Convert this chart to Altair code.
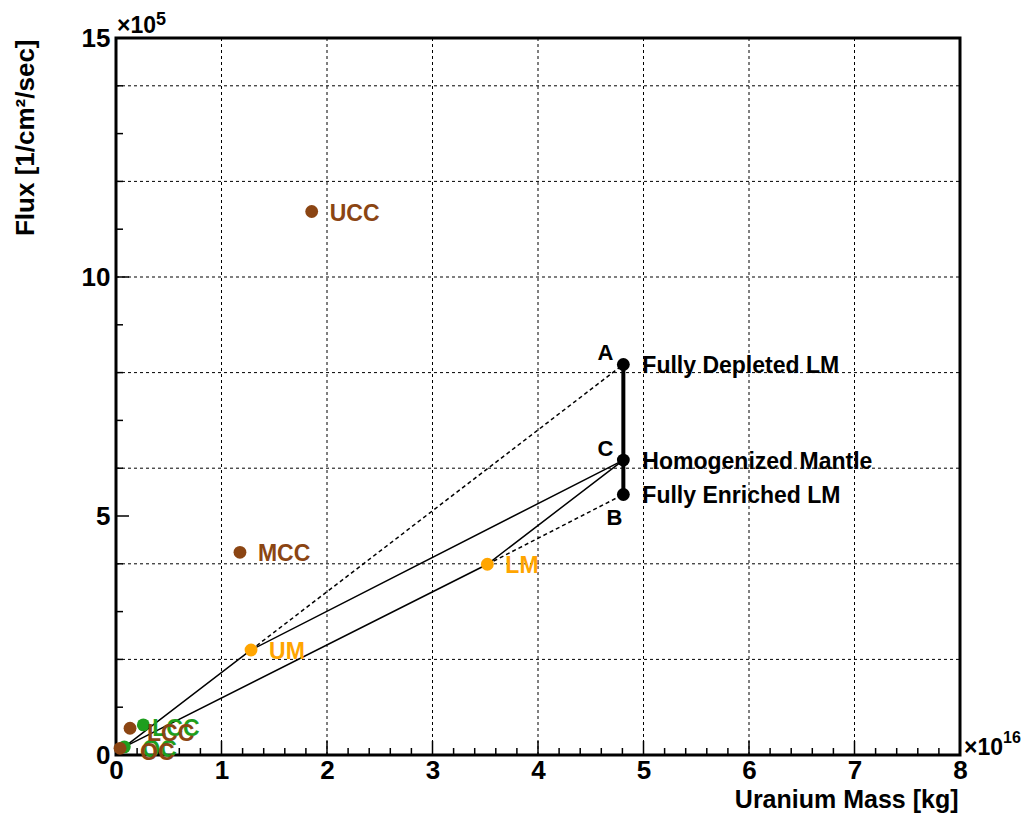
import altair as alt
import pandas as pd

# ---------------- data ----------------
crust_names = ["UCC", "MCC", "LCC", "OC"]
crust_x = [1.855, 1.175, 0.133, 0.038]
crust_y = [11.37, 4.24, 0.56, 0.14]

green_names = ["LCC", "OC"]
green_x = [0.259, 0.079]
green_y = [0.63, 0.17]

mantle_names = ["UM", "LM"]
mantle_x = [1.28, 3.52]
mantle_y = [2.197, 3.99]

earth_letters = ["A", "C", "B"]
earth_desc = ["Fully Depleted LM", "Homogenized Mantle", "Fully Enriched LM"]
earth_x = [4.809, 4.809, 4.809]
earth_y = [8.17, 6.17, 5.45]

# parallelogram paths (start -> UM -> C, start -> LM -> C)
path_start = (0.08, 0.17)
upper_path_x = [path_start[0], mantle_x[0], earth_x[1]]
upper_path_y = [path_start[1], mantle_y[0], earth_y[1]]
lower_path_x = [path_start[0], mantle_x[1], earth_x[1]]
lower_path_y = [path_start[1], mantle_y[1], earth_y[1]]
# dotted: UM -> A, LM -> B
dot1_x = [mantle_x[0], earth_x[0]]
dot1_y = [mantle_y[0], earth_y[0]]
dot2_x = [mantle_x[1], earth_x[2]]
dot2_y = [mantle_y[1], earth_y[2]]

x_labels = [0, 1, 2, 3, 4, 5, 6, 7, 8]
y_labels = [0, 5, 10, 15]
x_grid = [1, 2, 3, 4, 5, 6, 7]
y_grid = [2, 4, 6, 8, 10, 12, 14]
x_major_ticks = [0, 1, 2, 3, 4, 5, 6, 7, 8]
x_minor_ticks = [i / 5 for i in range(1, 40) if i % 5 != 0]
y_major_ticks = [0, 5, 10, 15]
y_minor_ticks = [v for v in range(1, 15) if v % 5 != 0]

BROWN = "#8B4513"
GREEN = "#1E9E1E"
ORANGE = "#FFA500"
FONT = "Liberation Sans"

W, H = 844, 717

xs = alt.Scale(domain=[0, 8], nice=False, zero=False)
ys = alt.Scale(domain=[0, 15], nice=False, zero=False)

x_axis = alt.Axis(values=x_labels, ticks=False, domain=False, grid=False,
                  labelFont=FONT, labelFontWeight="bold", labelFontSize=26,
                  labelColor="black", labelPadding=2, labelFlush=False,
                  labelOverlap=False, format="d",
                  title="Uranium Mass [kg]", titleFont=FONT, titleFontWeight="bold",
                  titleFontSize=25, titleColor="black", titleX=W - 2, titleY=52,
                  titleAlign="right", titleBaseline="alphabetic", titleAnchor="end")
y_axis = alt.Axis(values=y_labels, ticks=False, domain=False, grid=False,
                  labelFont=FONT, labelFontWeight="bold", labelFontSize=26,
                  labelColor="black", labelPadding=6, labelFlush=False,
                  labelOverlap=False, format="d",
                  title="Flux [1/cm²/sec]", titleFont=FONT, titleFontWeight="bold",
                  titleFontSize=26, titleColor="black", titleAngle=270,
                  titleX=-83, titleY=1, titleAlign="right", titleBaseline="alphabetic",
                  titleAnchor="end")


def X(f="x"):
    return alt.X(f"{f}:Q", scale=xs, axis=x_axis)


def Y(f="y"):
    return alt.Y(f"{f}:Q", scale=ys, axis=y_axis)


def df(**kw):
    return pd.DataFrame(kw)


layers = []

# grid
layers.append(alt.Chart(df(x=x_grid)).mark_rule(color="black", strokeWidth=1, strokeDash=[3, 3]).encode(
    x=X(), y=alt.value(0), y2=alt.value(H)))
layers.append(alt.Chart(df(y=y_grid)).mark_rule(color="black", strokeWidth=1, strokeDash=[3, 3]).encode(
    y=Y(), x=alt.value(0), x2=alt.value(W)))

# ticks (inward)
layers.append(alt.Chart(df(x=x_major_ticks)).mark_rule(color="black", strokeWidth=1.5).encode(
    x=X(), y=alt.value(H), y2=alt.value(H - 14)))
layers.append(alt.Chart(df(x=x_minor_ticks)).mark_rule(color="black", strokeWidth=1.5).encode(
    x=X(), y=alt.value(H), y2=alt.value(H - 7)))
layers.append(alt.Chart(df(y=y_major_ticks)).mark_rule(color="black", strokeWidth=1.5).encode(
    y=Y(), x=alt.value(0), x2=alt.value(13)))
layers.append(alt.Chart(df(y=y_minor_ticks)).mark_rule(color="black", strokeWidth=1.5).encode(
    y=Y(), x=alt.value(0), x2=alt.value(7)))

# paths
for px, py, dash in [(upper_path_x, upper_path_y, None), (lower_path_x, lower_path_y, None),
                     (dot1_x, dot1_y, [4, 3]), (dot2_x, dot2_y, [4, 3])]:
    kw = dict(color="black", strokeWidth=1.5)
    if dash:
        kw["strokeDash"] = dash
    layers.append(alt.Chart(df(x=px, y=py, o=list(range(len(px))))).mark_line(**kw).encode(
        x=X(), y=Y(), order="o:Q"))

# thick A-B line
layers.append(alt.Chart(df(x=[earth_x[0], earth_x[2]], y=[earth_y[0], earth_y[2]], o=[0, 1]))
              .mark_line(color="black", strokeWidth=4).encode(x=X(), y=Y(), order="o:Q"))

crust_df = df(name=crust_names, x=crust_x, y=crust_y)
green_df = df(name=green_names, x=green_x, y=green_y)
mantle_df = df(name=mantle_names, x=mantle_x, y=mantle_y)
earth_df = df(letter=earth_letters, desc=earth_desc, x=earth_x, y=earth_y)

SZ = 165
layers.append(alt.Chart(green_df).mark_circle(size=SZ, opacity=1, color=GREEN).encode(x=X(), y=Y()))
layers.append(alt.Chart(crust_df).mark_circle(size=SZ, opacity=1, color=BROWN).encode(x=X(), y=Y()))
layers.append(alt.Chart(mantle_df).mark_circle(size=SZ, opacity=1, color=ORANGE).encode(x=X(), y=Y()))
layers.append(alt.Chart(earth_df).mark_circle(size=SZ, opacity=1, color="black").encode(x=X(), y=Y()))

TXT = dict(font=FONT, fontWeight="bold", fontSize=23, baseline="middle", align="left")

# green labels (under brown)
layers.append(alt.Chart(green_df).transform_filter(alt.datum.name == "LCC")
              .mark_text(color=GREEN, dx=9, dy=4, **TXT).encode(x=X(), y=Y(), text="name:N"))
layers.append(alt.Chart(green_df).transform_filter(alt.datum.name == "OC")
              .mark_text(color=GREEN, dx=18, dy=3, **TXT).encode(x=X(), y=Y(), text="name:N"))
# brown labels
layers.append(alt.Chart(crust_df).transform_filter("datum.name == 'UCC' || datum.name == 'MCC'")
              .mark_text(color=BROWN, dx=18, dy=2, **TXT).encode(x=X(), y=Y(), text="name:N"))
layers.append(alt.Chart(crust_df).transform_filter(alt.datum.name == "LCC")
              .mark_text(color=BROWN, dx=17, dy=6, **TXT).encode(x=X(), y=Y(), text="name:N"))
layers.append(alt.Chart(crust_df).transform_filter(alt.datum.name == "OC")
              .mark_text(color=BROWN, dx=20, dy=5, **TXT).encode(x=X(), y=Y(), text="name:N"))
# mantle labels
layers.append(alt.Chart(mantle_df).mark_text(color=ORANGE, dx=18, dy=2, **TXT)
              .encode(x=X(), y=Y(), text="name:N"))
# earth descriptions
layers.append(alt.Chart(earth_df).mark_text(color="black", dx=19, dy=2, **TXT)
              .encode(x=X(), y=Y(), text="desc:N"))
# letters
layers.append(alt.Chart(earth_df).transform_filter("datum.letter != 'B'")
              .mark_text(color="black", dx=-10, dy=-11, **{**TXT, "align": "right", "fontSize": 22})
              .encode(x=X(), y=Y(), text="letter:N"))
layers.append(alt.Chart(earth_df).transform_filter("datum.letter == 'B'")
              .mark_text(color="black", dx=-9, dy=24, **{**TXT, "align": "center", "fontSize": 22})
              .encode(x=X(), y=Y(), text="letter:N"))

# exponent annotations
layers.append(alt.Chart(df(x=[0], y=[15], t=["×10"])).mark_text(
    font=FONT, fontWeight="bold", fontSize=23, align="left", baseline="alphabetic",
    dx=1, dy=-5, color="black").encode(x=X(), y=Y(), text="t:N"))
layers.append(alt.Chart(df(x=[0], y=[15], t=["5"])).mark_text(
    font=FONT, fontWeight="bold", fontSize=18, align="left", baseline="alphabetic",
    dx=40, dy=-13, color="black").encode(x=X(), y=Y(), text="t:N"))
layers.append(alt.Chart(df(x=[8], y=[0], t=["×10"])).mark_text(
    font=FONT, fontWeight="bold", fontSize=23, align="left", baseline="alphabetic",
    dx=4, dy=0, color="black").encode(x=X(), y=Y(), text="t:N"))
layers.append(alt.Chart(df(x=[8], y=[0], t=["16"])).mark_text(
    font=FONT, fontWeight="bold", fontSize=16, align="left", baseline="alphabetic",
    dx=43, dy=-12, color="black").encode(x=X(), y=Y(), text="t:N"))

chart = alt.layer(*layers).properties(
    width=W, height=H,
    autosize=alt.AutoSizeParams(type="none"),
    padding={"left": 108, "top": 30, "right": 65, "bottom": 58},
    background="white",
).configure_view(stroke="black", strokeWidth=3)

chart.save("out.html", embed_options={"renderer": "svg", "actions": False})
